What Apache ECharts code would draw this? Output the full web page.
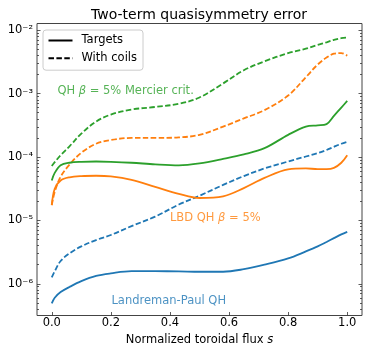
<!DOCTYPE html>
<html><head><meta charset="utf-8">
<script src="https://cdn.jsdelivr.net/npm/echarts@6/dist/echarts.min.js"></script>
<style>html,body{margin:0;padding:0;background:#fff}#c{width:374px;height:347px}</style>
</head><body><div id="c"></div>
<script>
// ---- data ----
const sGrid = [0, 0.01, 0.03, 0.06, 0.1, 0.15, 0.2, 0.27, 0.35, 0.43, 0.5, 0.58, 0.65, 0.72, 0.8, 0.86, 0.9, 0.93, 0.955, 0.98, 1.0];
const lpTargets = [4.90e-7, 6.03e-7, 7.41e-7, 8.91e-7, 1.10e-6, 1.33e-6, 1.46e-6, 1.58e-6, 1.58e-6, 1.57e-6, 1.55e-6, 1.55e-6, 1.70e-6, 2.00e-6, 2.51e-6, 3.24e-6, 3.89e-6, 4.57e-6, 5.25e-6, 6.03e-6, 6.61e-6];
const lpCoils   = [1.26e-6, 1.58e-6, 2.29e-6, 3.02e-6, 3.89e-6, 4.90e-6, 5.89e-6, 8.13e-6, 1.15e-5, 1.78e-5, 2.45e-5, 3.63e-5, 5.01e-5, 6.61e-5, 8.51e-5, 1.02e-4, 1.15e-4, 1.29e-4, 1.45e-4, 1.62e-4, 1.74e-4];
const lbdTargets = [1.74e-5, 3.16e-5, 4.27e-5, 4.79e-5, 5.01e-5, 5.07e-5, 4.95e-5, 4.37e-5, 3.39e-5, 2.63e-5, 2.26e-5, 2.40e-5, 3.24e-5, 4.68e-5, 6.38e-5, 6.61e-5, 6.46e-5, 6.46e-5, 6.76e-5, 8.13e-5, 1.07e-4];
const lbdCoils   = [1.74e-5, 2.82e-5, 4.90e-5, 7.59e-5, 1.17e-4, 1.62e-4, 1.86e-4, 2.00e-4, 2.00e-4, 2.04e-4, 2.24e-4, 3.02e-4, 4.07e-4, 5.50e-4, 9.33e-4, 1.82e-3, 2.88e-3, 3.72e-3, 4.27e-3, 4.37e-3, 3.98e-3];
const qhTargets = [4.27e-5, 5.62e-5, 7.41e-5, 8.13e-5, 8.41e-5, 8.51e-5, 8.41e-5, 8.13e-5, 7.67e-5, 7.41e-5, 7.94e-5, 9.33e-5, 1.10e-4, 1.38e-4, 2.24e-4, 3.02e-4, 3.16e-4, 3.31e-4, 4.47e-4, 6.03e-4, 7.67e-4];
const qhCoils   = [7.24e-5, 8.32e-5, 1.07e-4, 1.48e-4, 2.34e-4, 3.63e-4, 4.68e-4, 5.62e-4, 6.17e-4, 6.92e-4, 8.71e-4, 1.45e-3, 2.34e-3, 3.24e-3, 4.37e-3, 5.13e-3, 5.89e-3, 6.46e-3, 7.08e-3, 7.50e-3, 7.67e-3];
const xTicks = [0, 0.2, 0.4, 0.6, 0.8, 1.0];
const yDecades = [-6, -5, -4, -3, -2];
const legendNames = ['Targets', 'With coils'];
const annoText = ['QH {i|β} = 5% Mercier crit.', 'LBD QH {i|β} = 5%', 'Landreman-Paul QH'];
const annoS = [0.019, 0.40, 0.202];
const annoV = [1.10e-3, 1.08e-5, 5.4e-7];

// ---- styles ----
const C_BLUE = '#1f77b4', C_ORANGE = '#ff7f0e', C_GREEN = '#2ca02c';
const FONT = 'DejaVu Sans';
const FS = 11.5;
const X_MIN = -0.05, X_MAX = 1.05;
const Y_MIN = 3.16e-7, Y_MAX = 1.28e-2;
const E_MIN = Math.log10(Y_MIN), E_MAX = Math.log10(Y_MAX);
const DASH = [5.5, 2.4];

const supMap = {'-':'⁻','0':'⁰','1':'¹','2':'²','3':'³','4':'⁴','5':'⁵','6':'⁶','7':'⁷','8':'⁸','9':'⁹'};
function sup(n){ return String(n).split('').map(c => supMap[c] || c).join(''); }

const minorExp = [];
for (let n = -7; n <= -2; n++) for (let k = 2; k <= 9; k++) {
  const e = n + Math.log10(k);
  if (e > E_MIN && e < E_MAX) minorExp.push(e);
}

function pts(vals){ return sGrid.map((s, i) => [s, vals[i]]); }
function line(name, vals, color, dashed){
  return {type:'line', name, data: pts(vals), xAxisIndex:0, yAxisIndex:0, symbol:'none', smooth:0.35,
    lineStyle:{color, width:1.8, type: dashed ? DASH : 'solid'}, itemStyle:{color}, silent:true, z:3};
}
function auxY(pos, values, len, withLabels){
  return {type:'value', position:pos, min:E_MIN, max:E_MAX, gridIndex:0,
    axisLine:{show:false}, splitLine:{show:false},
    axisTick:{show:true, inside:true, length:len, customValues:values, lineStyle:{color:'#333', width:0.8}},
    axisLabel: withLabels ? {show:true, customValues:values, margin:4, color:'#000', fontFamily:FONT, fontSize:FS,
      formatter: v => '10' + sup(Math.round(v))} : {show:false}};
}

const annoColors = [C_GREEN, C_ORANGE, C_BLUE];
const chart = echarts.init(document.getElementById('c'), null, {renderer:'canvas'});
chart.setOption({
  animation:false,
  backgroundColor:'#fff',
  textStyle:{fontFamily:FONT},
  title:{text:'Two-term quasisymmetry error', left:91, top:8, padding:0,
    textStyle:{fontFamily:FONT, fontSize:14, fontWeight:'normal', color:'#000'}},
  grid:{left:37, right:12, top:23.5, bottom:31.5, show:true, borderColor:'#444', borderWidth:1, outerBoundsMode:'none', containLabel:false},
  legend:{data:legendNames, left:43, top:30, orient:'vertical', selectedMode:false,
    padding:[4.5,6,6,4.5], itemGap:5.7, itemWidth:24, itemHeight:11,
    itemStyle:{opacity:0, borderWidth:0},
    backgroundColor:'rgba(255,255,255,0.8)', borderColor:'#ccc', borderWidth:1, borderRadius:3,
    textStyle:{fontFamily:FONT, fontSize:FS, color:'#000', padding:[0,0,0,4]}},
  xAxis:[{type:'value', min:X_MIN, max:X_MAX, position:'bottom',
    name:'Normalized toroidal flux {i|s}', nameLocation:'middle', nameGap:8,
    nameTextStyle:{fontFamily:FONT, fontSize:FS, color:'#000', verticalAlign:'top',
      rich:{i:{fontStyle:'italic', fontFamily:FONT, fontSize:FS, color:'#000'}}},
    axisLine:{show:false}, splitLine:{show:false},
    axisTick:{show:true, inside:true, length:3.5, customValues:xTicks, lineStyle:{color:'#333', width:0.8}},
    axisLabel:{customValues:xTicks, margin:1.5, color:'#000', fontFamily:FONT, fontSize:FS, formatter: v => v.toFixed(1)}}],
  yAxis:[
    {type:'log', logBase:10, min:Y_MIN, max:Y_MAX, show:false},
    auxY('left', yDecades, 3.5, true),
    auxY('left', minorExp, 2, false),
    auxY('right', yDecades, 3.5, false),
    auxY('right', minorExp, 2, false)
  ],
  series:[
    line('LP targets', lpTargets, C_BLUE, false),
    line('LP coils', lpCoils, C_BLUE, true),
    line('LBD targets', lbdTargets, C_ORANGE, false),
    line('LBD coils', lbdCoils, C_ORANGE, true),
    line('QH targets', qhTargets, C_GREEN, false),
    line('QH coils', qhCoils, C_GREEN, true),
    {type:'line', name:legendNames[0], data:[], symbol:'none', lineStyle:{color:'#000', width:1.8}, itemStyle:{color:'#000'}},
    {type:'line', name:legendNames[1], data:[], symbol:'none', lineStyle:{color:'#000', width:1.8, type:DASH}, itemStyle:{color:'#000'}},
    {type:'scatter', name:'labels', xAxisIndex:0, yAxisIndex:0, symbolSize:0, silent:true, z:4,
      data: annoText.map((t, i) => ({value:[annoS[i], annoV[i]],
        label:{show:true, position:'right', distance:0, align:'left', verticalAlign:'middle',
          formatter:t, color:annoColors[i], fontFamily:FONT, fontSize:FS,
          rich:{i:{fontStyle:'italic', fontFamily:FONT, fontSize:FS, color:annoColors[i]}}}}))}
  ]
});
</script></body></html>
